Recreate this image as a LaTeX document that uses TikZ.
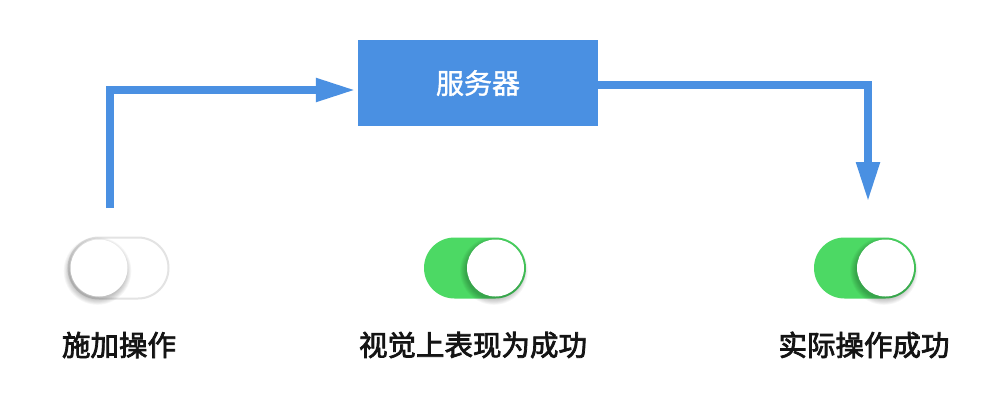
\documentclass[tikz,border=0pt]{standalone}
\usepackage{fontspec}
\newfontfamily\cjkm[FakeBold=2.6]{Noto Sans CJK SC}
\newfontfamily\cjks[FakeBold=1.4]{Noto Sans CJK SC}
\usetikzlibrary{arrows.meta,shapes.misc}
\definecolor{mblue}{HTML}{4A90E2}
\definecolor{mgreen}{HTML}{4CD964}
\definecolor{mgray}{HTML}{E3E3E3}
\tikzset{
  flow/.style={draw=mblue, line width=8pt, -{Triangle[length=40pt,width=22pt]}},
  srvbox/.style={fill=mblue, minimum width=240pt, minimum height=86pt, inner sep=0pt, font=\cjks\fontsize{28}{30}\selectfont, text=white},
  pillon/.style={rounded rectangle, fill=mgreen, minimum width=102pt, minimum height=61pt, inner sep=0pt},
  pilloff/.style={rounded rectangle, fill=white, draw=mgray, line width=2pt, minimum width=100pt, minimum height=61pt, inner sep=0pt},
  knob/.style={circle, fill=white, minimum size=57pt, inner sep=0pt},
  lbl/.style={font=\cjkm\fontsize{28.5}{30}\selectfont, text=black!92}
}
\newcommand{\knobshadow}[2]{%
  \foreach \i in {1,...,7}{\fill[black, opacity=0.035] (#1-1.5,#2+3) circle ({27.5+\i*0.9});}%
}
\begin{document}
\begin{tikzpicture}[x=1pt,y=-1pt]
\useasboundingbox (0,0) rectangle (1006,410);
\fill[white] (0,0) rectangle (1006,410);
% server box
\node[srvbox] (srv) at (478,83) {服务器};
% toggles
\node[pilloff] (t1) at (118.5,268) {};
\knobshadow{99}{268}
\node[knob] (k1) at (99,268) {};
\node[pillon] (t2) at (475,268) {};
\knobshadow{495.5}{268}
\node[knob] (k2) at (495.5,268) {};
\node[pillon] (t3) at (865,268) {};
\knobshadow{885.5}{268}
\node[knob] (k3) at (885.5,268) {};
% labels
\node[lbl] (l1) at (119,345) {施加操作};
\node[lbl] (l2) at (473,345) {视觉上表现为成功};
\node[lbl] (l3) at (864,345) {实际操作成功};
% arrows
\coordinate (a1) at (110,208);
\coordinate (a2) at (868,202);
\draw[flow, shorten >=2pt] (a1) |- ([yshift=-7pt]srv.west);
\draw[flow] ([yshift=-2pt]srv.east) -| (a2);
\end{tikzpicture}
\end{document}
